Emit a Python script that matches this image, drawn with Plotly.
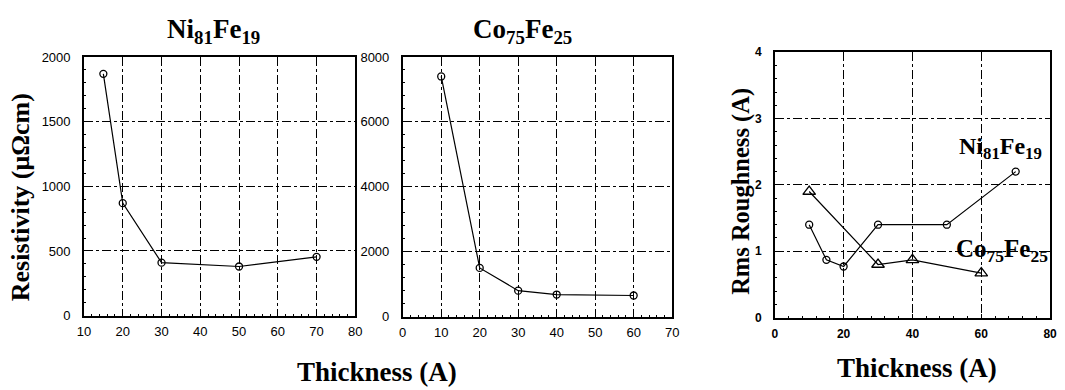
import plotly.graph_objects as go

W, H = 1065, 390

# Data
nife_res_x = [15, 20, 30, 50, 70]
nife_res_y = [1870, 870, 410, 380, 455]
cofe_res_x = [10, 20, 30, 40, 60]
cofe_res_y = [7400, 1500, 800, 680, 650]
nife_rough_x = [10, 15, 20, 30, 50, 70]
nife_rough_y = [1.4, 0.87, 0.77, 1.4, 1.4, 2.2]
cofe_rough_x = [10, 30, 40, 60]
cofe_rough_y = [1.9, 0.8, 0.87, 0.67]

def px(x):
    return x / W

def py(y):
    return 1 - y / H

fig = go.Figure()
line = dict(color="black", width=1.2)
circ = dict(symbol="circle-open", size=7, color="black", line=dict(width=1.3))
tri = dict(symbol="triangle-up-open", size=11, color="black", line=dict(width=1.3))

fig.add_trace(go.Scatter(x=nife_res_x, y=nife_res_y, mode="lines+markers", line=line, marker=circ, xaxis="x", yaxis="y"))
fig.add_trace(go.Scatter(x=cofe_res_x, y=cofe_res_y, mode="lines+markers", line=line, marker=circ, xaxis="x2", yaxis="y2"))
fig.add_trace(go.Scatter(x=nife_rough_x, y=nife_rough_y, mode="lines+markers", line=line, marker=circ, xaxis="x3", yaxis="y3"))
fig.add_trace(go.Scatter(x=cofe_rough_x, y=cofe_rough_y, mode="lines+markers", line=line, marker=tri, xaxis="x3", yaxis="y3"))

tickfont = dict(family="Liberation Sans Narrow, Liberation Sans, Arial", size=13, color="black")
bold_tickfont = dict(family="Liberation Sans, Arial", size=12, color="black", weight="bold")

def ax(domain, rng, dtick, anchor, minor_dtick, font=tickfont, standoff=4):
    return dict(
        domain=domain, range=rng, dtick=dtick, anchor=anchor,
        showgrid=True, gridcolor="black", griddash="dashdot", gridwidth=1,
        showline=True, linecolor="black", linewidth=1.6, mirror=True,
        ticks="inside", ticklen=4, tickcolor="black",
        minor=dict(dtick=minor_dtick, ticks="inside", ticklen=2, tickcolor="black", showgrid=False),
        zeroline=False, tickfont=font, fixedrange=True,
        ticklabelstandoff=standoff, ticklabeloverflow="allow",
    )

fig.update_layout(
    width=W, height=H,
    margin=dict(l=0, r=0, t=0, b=0),
    paper_bgcolor="white", plot_bgcolor="white",
    showlegend=False,
    xaxis=ax([px(78), px(353)], [10, 80], 10, "y", 2, standoff=3),
    yaxis=ax([py(321), py(52)], [0, 2000], 500, "x", 100, standoff=9),
    xaxis2=ax([px(401), px(674)], [0, 70], 10, "y2", 2, standoff=3),
    yaxis2=ax([py(322), py(52)], [0, 8000], 2000, "x2", 400, standoff=9),
    xaxis3=ax([px(778), px(1057)], [0, 80], 20, "y3", 4, bold_tickfont, standoff=4),
    yaxis3=ax([py(323), py(47)], [0, 4], 1, "x3", 0.2, bold_tickfont, standoff=9),
)

serif = dict(family="Liberation Serif, Times New Roman", size=25, color="black")
ann = [
    dict(x=px(209), y=py(25), text="<b>Ni<sub>81</sub>Fe<sub>19</sub></b>", size=27),
    dict(x=px(522), y=py(25), text="<b>Co<sub>75</sub>Fe<sub>25</sub></b>", size=27),
    dict(x=px(375), y=py(380), text="<b>Thickness (A)</b>", size=27),
    dict(x=px(922), y=py(375), text="<b>Thickness (A)</b>", size=27),
    dict(x=px(14), y=py(198), text="<b>Resistivity (μΩcm)</b>", textangle=-90, size=26),
    dict(x=px(743), y=py(192), text="<b>Rms Roughness (A)</b>", textangle=-90, size=24.5),
    dict(x=px(1007), y=py(147), text="<b>Ni<sub>81</sub>Fe<sub>19</sub></b>", size=24),
    dict(x=px(1008), y=py(253), text="<b>Co<sub>75</sub>Fe<sub>25</sub></b>", size=25),
]
for a in ann:
    s = a.pop("size", 25)
    a.update(xref="paper", yref="paper", showarrow=False, font=dict(serif, size=s),
             xanchor="center", yanchor="middle")
fig.update_layout(annotations=ann)

fig.write_html("out.html", config={"displayModeBar": False},
               post_script="document.body.style.margin='0';document.body.style.padding='0';")
